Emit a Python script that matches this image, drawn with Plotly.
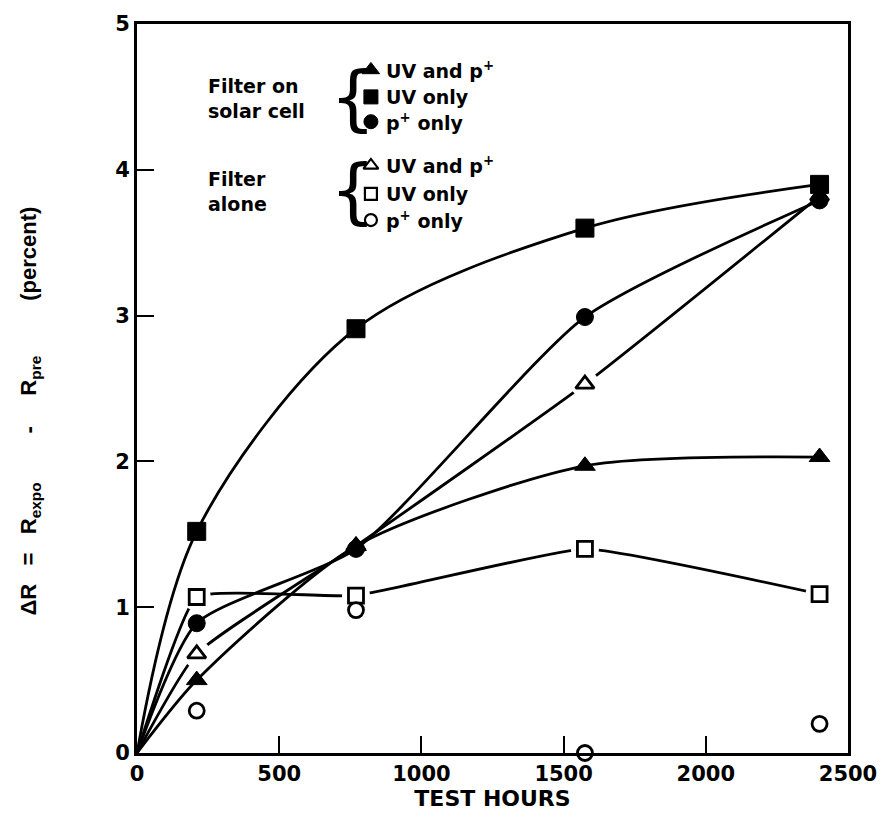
import plotly.graph_objects as go

# ---- data ----
hours = [0, 210, 770, 1575, 2400]
cell_uv_p = [0, 0.50, 1.42, 1.97, 2.03]      # filled triangle
cell_uv = [0, 1.52, 2.91, 3.60, 3.90]        # filled square
cell_p = [0, 0.89, 1.40, 2.99, 3.79]         # filled circle
alone_uv_p = [0, 0.68, 1.42, 2.53, 3.82]     # open triangle
alone_uv = [0, 1.07, 1.08, 1.40, 1.09]       # open square
alone_p_hours = [210, 770, 1575, 2400]
alone_p = [0.29, 0.98, 0.0, 0.20]            # open circle (no line)

x_ticks = [0, 500, 1000, 1500, 2000, 2500]
y_ticks = [0, 1, 2, 3, 4, 5]

legend_groups = ["Filter on<br>solar cell", "Filter<br>alone"]
legend_labels = ["UV and p<sup>+</sup>", "UV only", "p<sup>+</sup> only"]

FONT = "DejaVu Sans"
BLACK = "black"

fig = go.Figure()

def line_style(sm):
    return dict(color=BLACK, width=2.8, shape="spline", smoothing=sm)

# lines
for ys, sm in [(cell_uv, 0.9), (cell_p, 0.6), (cell_uv_p, 0.7), (alone_uv_p, 0.5), (alone_uv, 0.35)]:
    fig.add_trace(go.Scatter(x=hours, y=ys, mode="lines", line=line_style(sm),
                             showlegend=False, hoverinfo="skip"))

# white halos around open markers (gap in lines)
halo_tri = [1, 3]
halo_sq = [1, 2, 3, 4]
fig.add_trace(go.Scatter(x=[hours[i] for i in halo_tri] + [hours[i] for i in halo_sq],
                         y=[alone_uv_p[i] for i in halo_tri] + [alone_uv[i] for i in halo_sq],
                         mode="markers", marker=dict(size=28, color="white", line=dict(width=0)),
                         showlegend=False, hoverinfo="skip", cliponaxis=False))

def mk(symbol, size, filled):
    if filled:
        return dict(symbol=symbol, size=size, color=BLACK, line=dict(color=BLACK, width=1))
    return dict(symbol=symbol, size=size, color="white", line=dict(color=BLACK, width=2.8))

# open markers first, filled on top
fig.add_trace(go.Scatter(x=hours[1:], y=alone_uv_p[1:], mode="markers",
                         marker=mk("triangle-up", 16, False), showlegend=False, cliponaxis=False))
fig.add_trace(go.Scatter(x=hours[1:], y=alone_uv[1:], mode="markers",
                         marker=mk("square", 15, False), showlegend=False, cliponaxis=False))
fig.add_trace(go.Scatter(x=alone_p_hours, y=alone_p, mode="markers",
                         marker=mk("circle", 15, False), showlegend=False, cliponaxis=False))
fig.add_trace(go.Scatter(x=hours[1:], y=cell_uv_p[1:], mode="markers",
                         marker=mk("triangle-up", 18, True), showlegend=False, cliponaxis=False))
fig.add_trace(go.Scatter(x=hours[1:], y=cell_p[1:], mode="markers",
                         marker=mk("circle", 17, True), showlegend=False, cliponaxis=False))
fig.add_trace(go.Scatter(x=hours[1:], y=cell_uv[1:], mode="markers",
                         marker=mk("square", 18, True), showlegend=False, cliponaxis=False))

# ---- custom legend on an overlay axis (fractions of plot area) ----
leg_x = 0.329
leg_text_x = 0.348
row_y = [0.937, 0.900, 0.866, 0.806, 0.767, 0.731]
leg_markers = [mk("triangle-up", 15, True), mk("square", 14, True), mk("circle", 14, True),
               mk("triangle-up", 13, False), mk("square", 12, False), mk("circle", 12, False)]
for yy, m in zip(row_y, leg_markers):
    m = dict(m)
    if m["color"] == "white":
        m["line"] = dict(color=BLACK, width=2.2)
    fig.add_trace(go.Scatter(x=[leg_x], y=[yy], mode="markers", marker=m, xaxis="x2", yaxis="y2",
                             showlegend=False, hoverinfo="skip", cliponaxis=False))

annotations = []
for i, yy in enumerate(row_y):
    annotations.append(dict(x=leg_text_x, y=yy, xref="paper", yref="paper", xanchor="left",
                            yanchor="middle", text=legend_labels[i % 3], showarrow=False,
                            font=dict(family=FONT, size=19, color=BLACK, weight="bold")))
# group labels
group_y = [(row_y[0] + row_y[2]) / 2 - 0.004, (row_y[3] + row_y[5]) / 2 + 0.002]
for g, yy in zip(legend_groups, group_y):
    annotations.append(dict(x=0.097, y=yy, xref="paper", yref="paper", xanchor="left",
                            yanchor="middle", text=g, showarrow=False, align="left",
                            font=dict(family=FONT, size=19, color=BLACK, weight="bold")))
    annotations.append(dict(x=0.304, y=yy + 0.002, xref="paper", yref="paper", xanchor="center",
                            yanchor="middle", text="{", showarrow=False,
                            font=dict(family="DejaVu Sans", size=72, color=BLACK)))

# y-axis title
sp = "\u00a0"
ytitle = ("ΔR" + sp * 3 + "=" + sp * 3 + "R<sub>expo</sub>" + sp * 8 + "-" + sp * 5
          + "R<sub>pre</sub>" + sp * 9 + "(percent)")
annotations.append(dict(x=-0.150, y=0.469, xref="paper", yref="paper", xanchor="center",
                        yanchor="middle", text=ytitle, textangle=-90, showarrow=False,
                        font=dict(family="Liberation Sans", size=22, color=BLACK, weight="bold")))

fig.update_layout(
    width=889, height=825,
    margin=dict(l=137, r=36, t=21, b=72),
    paper_bgcolor="white", plot_bgcolor="white",
    showlegend=False,
    annotations=annotations,
    xaxis=dict(range=[0, 2500], tickvals=x_ticks, ticks="inside", ticklen=17, tickwidth=2,
               tickcolor=BLACK, showline=True, linewidth=3, linecolor=BLACK, mirror=True,
               showgrid=False, zeroline=False,
               tickfont=dict(family=FONT, size=21, color=BLACK, weight="bold"),
               title=dict(text="TEST HOURS", standoff=0,
                          font=dict(family=FONT, size=22, color=BLACK, weight="bold"))),
    yaxis=dict(range=[0, 5], tickvals=y_ticks, ticks="inside", ticklen=17, tickwidth=2,
               tickcolor=BLACK, showline=True, linewidth=3, linecolor=BLACK, mirror=True,
               showgrid=False, zeroline=False,
               tickfont=dict(family=FONT, size=21, color=BLACK, weight="bold")),
    xaxis2=dict(range=[0, 1], overlaying="x", visible=False, fixedrange=True),
    yaxis2=dict(range=[0, 1], overlaying="y", visible=False, fixedrange=True),
)

fig.write_html("out.html")
